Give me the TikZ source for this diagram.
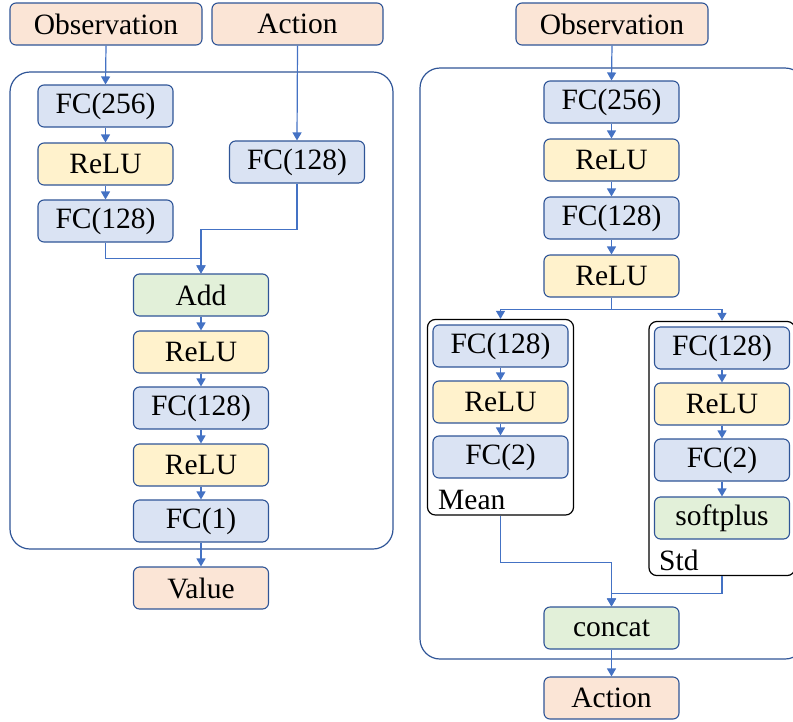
\documentclass[tikz,border=0pt]{standalone}
\usepackage{fontspec}
\setmainfont{Liberation Serif}
\usepackage{xcolor}
\usepackage{tikz}
\usetikzlibrary{positioning, arrows.meta, fit, backgrounds}
\definecolor{fcblau}{HTML}{DAE3F3}
\definecolor{relugelb}{HTML}{FFF2CC}
\definecolor{opgruen}{HTML}{E2F0D9}
\definecolor{iorot}{HTML}{FBE5D6}
\definecolor{rahmen}{HTML}{2F5597}
\definecolor{pfeil}{HTML}{4472C4}
\tikzset{
    layerbox/.style = {draw=rahmen, line width=1.1pt, rounded corners=6pt, align=center,
                       inner sep=0pt, minimum width=135pt, minimum height=42pt,
                       font=\fontsize{29.5}{34}\selectfont},
    io/.style       = {layerbox, fill=iorot},
    fc/.style       = {layerbox, fill=fcblau},
    relu/.style     = {layerbox, fill=relugelb},
    merge/.style    = {layerbox, fill=opgruen},
    hull/.style     = {draw=rahmen, line width=1.2pt, rounded corners=20pt, inner sep=0pt},
    head/.style     = {draw=black, line width=1.2pt, rounded corners=8pt, inner sep=5pt},
    link/.style     = {-{Triangle[length=8pt, width=9pt]}, draw=pfeil, line width=1.2pt},
    beschr/.style   = {font=\fontsize{29.5}{34}\selectfont, inner sep=0pt, anchor=west}
}
\begin{document}
\begin{tikzpicture}[x=1pt, y=-1pt]
    \useasboundingbox (0,0) rectangle (793,721);

    % --- Critic ---
    \node[io, minimum width=192pt] (o1) at (106,24)   {Observation};
    \node[io, minimum width=171pt] (a1) at (297.5,24) {Action};
    \node[fc]    (c1) at (105.5,106) {FC(256)};
    \node[relu]  (c2) at (105.5,164) {ReLU};
    \node[fc]    (c3) at (105.5,221) {FC(128)};
    \node[fc]    (ca) at (297,162)   {FC(128)};
    \node[merge] (c4) at (201,295)   {Add};
    \node[relu]  (c5) at (201,352)   {ReLU};
    \node[fc]    (c6) at (201,408)   {FC(128)};
    \node[relu]  (c7) at (201,465)   {ReLU};
    \node[fc]    (c8) at (201,521)   {FC(1)};
    \node[io]    (v)  at (201,588)   {Value};

    \draw[link] (o1.south) -- (c1.north);
    \draw[link] (a1.south) -- (ca.north);
    \draw[link] (c1) -- (c2);
    \draw[link] (c2) -- (c3);
    \draw[link] (c3.south) -- ++(0,16) -| (c4.north);
    \draw[link] (ca.south) -- ++(0,46) -| (c4.north);
    \draw[link] (c4) -- (c5);
    \draw[link] (c5) -- (c6);
    \draw[link] (c6) -- (c7);
    \draw[link] (c7) -- (c8);
    \draw[link] (c8) -- (v);

    \coordinate (kl) at (10,72);
    \coordinate (kr) at (393,549);
    \begin{scope}[on background layer]
        \node[hull, fit=(kl)(kr)] (hk) {};
    \end{scope}

    % --- Actor ---
    \node[io, minimum width=192pt] (p0) at (612,24) {Observation};
    \node[fc]    (p1) at (611.5,102) {FC(256)};
    \node[relu]  (p2) at (611.5,160) {ReLU};
    \node[fc]    (p3) at (611.5,218) {FC(128)};
    \node[relu]  (p4) at (611.5,276) {ReLU};

    \draw[link] (p0.south) -- (p1.north);
    \draw[link] (p1) -- (p2);
    \draw[link] (p2) -- (p3);
    \draw[link] (p3) -- (p4);

    % Mean
    \node[fc]   (m1) at (500.5,346) {FC(128)};
    \node[relu] (m2) at (500.5,402) {ReLU};
    \node[fc]   (m3) at (500.5,457) {FC(2)};
    \node[beschr] (ml) at (438,500) {Mean};
    \draw[link] (m1) -- (m2);
    \draw[link] (m2) -- (m3);
    \node[head, fit=(m1)(m3)(ml)] (hm) {};

    % Std
    \node[fc]    (s1) at (722,348) {FC(128)};
    \node[relu]  (s2) at (722,404) {ReLU};
    \node[fc]    (s3) at (722,460) {FC(2)};
    \node[merge] (s4) at (722,518) {softplus};
    \node[beschr] (sl) at (659,560) {Std};
    \draw[link] (s1) -- (s2);
    \draw[link] (s2) -- (s3);
    \draw[link] (s3) -- (s4);
    \node[head, fit=(s1)(s4)(sl)] (hs) {};

    \node[merge] (pc) at (611.5,628) {concat};
    \node[io]    (pa) at (611.5,698) {Action};

    \draw[link] (p4.south) -- ++(0,12) -| (hm.north);
    \draw[link] (p4.south) -- ++(0,12) -| (hs.north);
    \draw[link] (hm.south) -- ++(0,47) -| (pc.north);
    \draw[link] (hs.south) -- ++(0,17) -| (pc.north);
    \draw[link] (pc) -- (pa);

    \coordinate (al) at (420,68);
    \coordinate (ar) at (805,659);
    \begin{scope}[on background layer]
        \node[hull, fit=(al)(ar)] (ha) {};
    \end{scope}
\end{tikzpicture}
\end{document}
